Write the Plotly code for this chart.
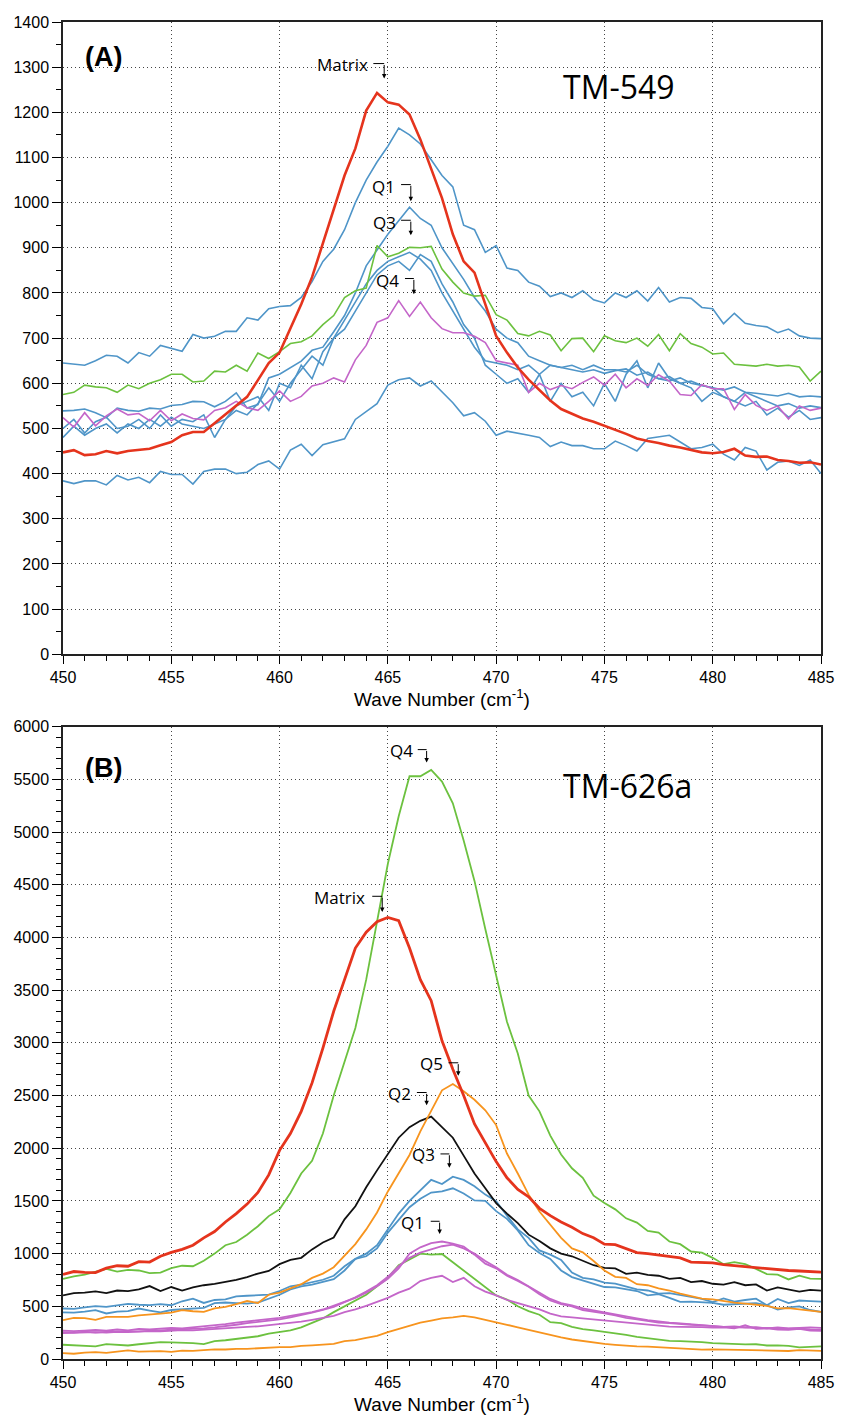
import plotly.graph_objects as go

WAVENUMBER = [450.0, 450.5, 451.0, 451.5, 452.0, 452.5, 453.0, 453.5, 454.0, 454.5,
              455.0, 455.5, 456.0, 456.5, 457.0, 457.5, 458.0, 458.5, 459.0, 459.5,
              460.0, 460.5, 461.0, 461.5, 462.0, 462.5, 463.0, 463.5, 464.0, 464.5,
              465.0, 465.5, 466.0, 466.5, 467.0, 467.5, 468.0, 468.5, 469.0, 469.5,
              470.0, 470.5, 471.0, 471.5, 472.0, 472.5, 473.0, 473.5, 474.0, 474.5,
              475.0, 475.5, 476.0, 476.5, 477.0, 477.5, 478.0, 478.5, 479.0, 479.5,
              480.0, 480.5, 481.0, 481.5, 482.0, 482.5, 483.0, 483.5, 484.0, 484.5,
              485.0]

# ---------------- Panel A: TM-549 ----------------
A_MATRIX = [447, 452, 441, 443, 450, 445, 450, 452, 455, 463,
            470, 485, 492, 492, 512, 530, 550, 570, 607, 645,
            668, 721, 775, 835, 910, 990, 1060, 1120, 1204, 1243,
            1222, 1217, 1195, 1140, 1075, 1010, 930, 870, 845, 775,
            705, 668, 635, 608, 585, 562, 543, 532, 522, 515,
            506, 498, 488, 478, 472, 468, 462, 458, 452, 447,
            445, 448, 455, 440, 437, 438, 430, 428, 424, 425,
            420]
A_BLUE_1 = [645, 643, 640, 650, 662, 660, 645, 668, 660, 684,
            678, 671, 708, 700, 704, 715, 715, 745, 740, 765,
            770, 772, 790, 825, 870, 897, 940, 1000, 1050, 1090,
            1125, 1165, 1150, 1130, 1095, 1060, 1035, 950, 940, 890,
            905, 855, 850, 824, 815, 792, 800, 790, 805, 785,
            778, 800, 790, 805, 782, 812, 780, 790, 788, 768,
            765, 732, 755, 733, 728, 725, 712, 720, 705, 700,
            699]
A_BLUE_Q1 = [539, 540, 543, 535, 524, 545, 540, 538, 545, 543,
             551, 553, 560, 559, 548, 560, 579, 545, 553, 612,
             620, 634, 649, 673, 680, 714, 750, 800, 860, 895,
             930, 960, 990, 965, 950, 900, 864, 830, 790, 760,
             720, 700, 690, 660, 650, 640, 635, 630, 625, 630,
             622, 628, 632, 618, 625, 610, 605, 612, 600, 595,
             590, 585, 592, 580, 578, 575, 572, 578, 570, 572,
             570]
A_BLUE_3 = [500, 520, 490, 515, 525, 500, 505, 520, 500, 530,
            505, 520, 515, 530, 480, 520, 550, 560, 570, 540,
            600, 590, 640, 610, 670, 700, 720, 760, 800, 840,
            860, 870, 850, 885, 870, 820, 780, 730, 700, 640,
            620, 600, 610, 580, 620, 560, 600, 570, 580, 550,
            600, 560, 620, 650, 590, 645, 610, 600, 590, 560,
            580, 570, 560, 550, 560, 530, 545, 525, 540, 520,
            524]
A_BLUE_4 = [480, 505, 485, 500, 510, 490, 510, 500, 520, 505,
            525, 510, 505, 500, 510, 520, 540, 530, 555, 590,
            560, 600, 630, 660, 640, 700, 740, 780, 820, 850,
            870, 880, 890, 875, 850, 800, 760, 720, 680, 650,
            645, 640, 630, 640, 620, 640, 635, 640, 630, 640,
            630, 630, 625, 640, 620, 610, 615, 600, 605, 595,
            590, 570, 560, 580, 570, 560, 550, 555, 545, 550,
            546]
A_BLUE_5 = [384, 378, 384, 384, 375, 396, 386, 392, 380, 405,
            398, 398, 377, 405, 410, 410, 400, 403, 420, 428,
            410, 452, 465, 440, 464, 470, 477, 520, 538, 555,
            596, 608, 612, 594, 605, 580, 557, 528, 535, 516,
            485, 494, 490, 485, 480, 460, 470, 462, 462, 455,
            455, 472, 462, 450, 478, 481, 485, 470, 455, 458,
            465, 443, 430, 458, 450, 408, 425, 428, 418, 430,
            400]
A_GREEN_Q3 = [575, 580, 596, 592, 590, 580, 596, 588, 600, 608,
              620, 620, 603, 605, 627, 625, 640, 627, 667, 655,
              670, 688, 692, 705, 730, 750, 790, 805, 811, 905,
              880, 888, 901, 900, 903, 853, 824, 800, 793, 795,
              752, 740, 710, 705, 715, 707, 672, 699, 700, 670,
              705, 694, 690, 700, 682, 708, 672, 710, 688, 680,
              665, 667, 642, 640, 638, 642, 638, 640, 636, 605,
              627]
A_PURPLE_Q4 = [524, 503, 535, 506, 528, 543, 530, 533, 517, 540,
               517, 532, 522, 519, 540, 546, 560, 546, 540, 560,
               583, 560, 571, 594, 600, 612, 603, 652, 684, 735,
               745, 783, 748, 780, 745, 721, 712, 712, 704, 690,
               650, 645, 640, 580, 600, 586, 595, 588, 602, 614,
               596, 620, 590, 610, 595, 619, 605, 575, 573, 597,
               588, 588, 542, 575, 551, 540, 550, 521, 550, 540,
               545]

# ---------------- Panel B: TM-626a ----------------
B_MATRIX = [802, 830, 822, 820, 862, 885, 880, 924, 920, 975,
            1012, 1040, 1080, 1150, 1210, 1300, 1380, 1470, 1580, 1747,
            1980, 2140, 2350, 2620, 2950, 3300, 3600, 3900, 4050, 4150,
            4190, 4160, 3900, 3600, 3400, 3020, 2750, 2500, 2230, 2050,
            1873, 1720, 1610, 1540, 1430, 1360, 1300, 1250, 1190, 1150,
            1090, 1085, 1050, 1010, 1000, 985, 975, 960, 920, 915,
            912, 895, 885, 875, 865, 860, 850, 840, 835, 828,
            824]
B_GREEN_Q4 = [761, 785, 800, 824, 855, 830, 845, 840, 815, 820,
              862, 885, 880, 933, 1000, 1080, 1110, 1180, 1260, 1356,
              1420, 1575, 1760, 1880, 2140, 2500, 2820, 3142, 3600, 4150,
              4700, 5150, 5530, 5530, 5590, 5480, 5273, 4920, 4537, 4080,
              3650, 3200, 2900, 2500, 2350, 2120, 1940, 1810, 1720, 1550,
              1480, 1420, 1335, 1294, 1215, 1200, 1115, 1090, 1020, 1010,
              960, 900, 920, 900, 855, 805, 800, 755, 790, 762,
              761]
B_BLACK_Q2 = [604, 625, 630, 642, 625, 650, 645, 660, 692, 645,
              683, 650, 680, 700, 712, 730, 750, 778, 811, 836,
              900, 940, 960, 1040, 1106, 1153, 1325, 1450, 1630, 1790,
              1950, 2100, 2200, 2260, 2300, 2200, 2100, 1930, 1760, 1620,
              1480, 1380, 1290, 1180, 1120, 1050, 1000, 975, 930, 890,
              865, 860, 808, 820, 799, 790, 761, 770, 730, 740,
              714, 705, 730, 700, 708, 650, 680, 660, 640, 655,
              649]
B_ORANGE_Q5 = [369, 390, 388, 372, 400, 400, 400, 415, 420, 430,
               441, 463, 453, 447, 480, 495, 520, 550, 532, 610,
               630, 670, 710, 770, 810, 871, 980, 1090, 1230, 1390,
               1590, 1760, 1936, 2160, 2360, 2550, 2610, 2540, 2460, 2360,
               2220, 1950, 1760, 1560, 1400, 1280, 1150, 1050, 1012, 930,
               840, 780, 770, 710, 700, 670, 650, 620, 595, 573,
               565, 548, 535, 526, 518, 505, 480, 482, 470, 462,
               448]
B_BLUE_Q3_A = [479, 475, 490, 501, 495, 510, 523, 515, 512, 520,
               510, 548, 573, 532, 560, 565, 595, 600, 604, 610,
               645, 690, 705, 730, 752, 790, 880, 950, 1000, 1080,
               1230, 1380, 1500, 1600, 1700, 1660, 1730, 1700, 1640, 1560,
               1497, 1360, 1230, 1150, 1030, 990, 940, 820, 770, 755,
               724, 715, 690, 660, 650, 620, 625, 604, 590, 570,
               540, 575, 545, 560, 573, 510, 570, 530, 555, 550,
               545]
B_BLUE_Q3_B = [442, 440, 450, 463, 432, 450, 455, 479, 460, 442,
               465, 473, 478, 485, 530, 536, 530, 526, 536, 570,
               610, 660, 690, 705, 730, 758, 840, 949, 975, 1050,
               1200, 1320, 1440, 1520, 1580, 1591, 1620, 1570, 1505, 1500,
               1403, 1330, 1220, 1080, 1005, 950, 840, 777, 745, 712,
               683, 680, 660, 645, 604, 615, 580, 542, 545, 540,
               532, 515, 520, 525, 530, 510, 470, 490, 500, 465,
               448]
B_PURPLE_Q1_A = [270, 265, 270, 275, 268, 280, 272, 285, 280, 290,
                 295, 290, 300, 305, 320, 330, 345, 355, 365, 375,
                 390, 410, 425, 445, 470, 505, 545, 580, 630, 690,
                 760, 860, 1000, 1060, 1100, 1115, 1095, 1068, 990, 905,
                 860, 790, 740, 685, 615, 555, 520, 500, 465, 445,
                 432, 415, 390, 375, 360, 345, 340, 330, 325, 320,
                 310, 305, 300, 298, 295, 300, 292, 288, 290, 280,
                 278]
B_PURPLE_Q1_B = [255, 250, 260, 250, 258, 262, 265, 262, 270, 272,
                 278, 280, 285, 290, 300, 310, 325, 340, 350, 360,
                 375, 395, 415, 440, 465, 495, 540, 585, 640, 700,
                 780, 880, 960, 1010, 1040, 1070, 1085, 1050, 1000, 930,
                 870, 800, 750, 690, 630, 570, 530, 510, 480, 460,
                 440, 420, 400, 385, 368, 355, 345, 338, 330, 318,
                 315, 305, 310, 300, 302, 290, 300, 290, 295, 300,
                 295]
B_PURPLE_Q1_C = [245, 250, 248, 255, 250, 258, 255, 262, 265, 262,
                 270, 275, 272, 280, 285, 290, 300, 305, 310, 320,
                 330, 338, 355, 372, 390, 410, 445, 470, 505, 545,
                 580, 630, 667, 740, 770, 790, 730, 770, 690, 640,
                 604, 560, 530, 500, 470, 430, 405, 395, 385, 375,
                 369, 360, 350, 340, 325, 318, 308, 305, 300, 302,
                 298, 300, 290, 320, 285, 290, 280, 276, 285, 270,
                 266]
B_GREEN_LOW = [135, 130, 128, 119, 141, 138, 128, 140, 150, 160,
               158, 157, 150, 141, 170, 178, 190, 207, 216, 240,
               258, 272, 300, 345, 385, 445, 500, 555, 610, 690,
               770, 890, 949, 1000, 990, 996, 918, 840, 765, 683,
               604, 565, 500, 455, 420, 350, 340, 305, 283, 272,
               260, 245, 229, 210, 195, 180, 172, 170, 168, 160,
               150, 145, 141, 138, 140, 128, 130, 125, 110, 118,
               119]
B_ORANGE_LOW = [56, 50, 60, 66, 58, 70, 81, 70, 72, 75,
                68, 80, 78, 85, 91, 90, 97, 96, 102, 106,
                113, 112, 125, 130, 135, 144, 170, 180, 200, 220,
                255, 285, 320, 345, 365, 385, 395, 410, 395, 372,
                354, 325, 300, 275, 250, 230, 205, 185, 170, 155,
                144, 135, 125, 120, 118, 113, 108, 103, 95, 88,
                92, 90, 85, 82, 80, 84, 78, 76, 85, 80,
                78]

X_TICKS = [450, 455, 460, 465, 470, 475, 480, 485]

RED = "#e5341d"
BLUE = "#4f95c8"
GREEN = "#6cc13f"
PURPLE = "#c466c9"
ORANGE = "#f7941e"
BLACK = "#111111"

fig = go.Figure()

def add(y, color, width, xa, ya):
    fig.add_trace(go.Scatter(x=WAVENUMBER, y=y, mode="lines",
                             line=dict(color=color, width=width),
                             xaxis=xa, yaxis=ya, showlegend=False,
                             hoverinfo="skip"))

# panel A
for s in [A_BLUE_5, A_BLUE_4, A_BLUE_3, A_BLUE_Q1, A_BLUE_1]:
    add(s, BLUE, 1.6, "x", "y")
add(A_PURPLE_Q4, PURPLE, 1.6, "x", "y")
add(A_GREEN_Q3, GREEN, 1.6, "x", "y")
add(A_MATRIX, RED, 2.6, "x", "y")

# panel B
add(B_ORANGE_LOW, ORANGE, 1.8, "x2", "y2")
add(B_GREEN_LOW, GREEN, 1.8, "x2", "y2")
for s in [B_PURPLE_Q1_C, B_PURPLE_Q1_B, B_PURPLE_Q1_A]:
    add(s, PURPLE, 1.8, "x2", "y2")
for s in [B_BLUE_Q3_B, B_BLUE_Q3_A]:
    add(s, BLUE, 1.8, "x2", "y2")
add(B_BLACK_Q2, BLACK, 1.8, "x2", "y2")
add(B_ORANGE_Q5, ORANGE, 1.8, "x2", "y2")
add(B_GREEN_Q4, GREEN, 1.8, "x2", "y2")
add(B_MATRIX, RED, 2.8, "x2", "y2")

TICKFONT = dict(family="Liberation Sans, Arial, sans-serif", size=16, color="black")
GRID = dict(showgrid=True, gridcolor="#444", griddash="1px,3px", gridwidth=1)
common_x = dict(range=[450, 485], tickvals=X_TICKS, ticks="outside", ticklen=8,
                tickwidth=1, tickcolor="black", showline=True, linecolor="#222",
                linewidth=1.5, mirror=True, zeroline=False, tickfont=TICKFONT,
                minor=dict(dtick=1, ticks="outside", ticklen=5, tickcolor="black",
                           showgrid=False),
                title=dict(text="Wave Number (cm<sup>-1</sup>)",
                           font=dict(family="Liberation Sans, Arial, sans-serif",
                                     size=19, color="black"), standoff=7),
                **GRID)
common_y = dict(ticks="outside", ticklen=9, tickwidth=1, tickcolor="black",
                showline=True, linecolor="#222", linewidth=1.5, mirror=True,
                zeroline=False, tickfont=TICKFONT, **GRID)

fig.update_layout(
    width=846, height=1423,
    margin=dict(l=63, r=16, t=22, b=52),
    paper_bgcolor="white", plot_bgcolor="white",
    xaxis=dict(domain=[0, 1], anchor="y", **common_x),
    yaxis=dict(domain=[0.5271, 1], anchor="x", range=[0, 1400], dtick=100,
               minor=dict(dtick=50, ticks="outside", ticklen=5, tickcolor="black",
                          showgrid=False), **common_y),
    xaxis2=dict(domain=[0, 1], anchor="y2", **common_x),
    yaxis2=dict(domain=[0, 0.4729], anchor="x2", range=[0, 6000], dtick=500,
                minor=dict(dtick=100, ticks="outside", ticklen=5, tickcolor="black",
                           showgrid=False), **common_y),
)

LABEL_FONT = dict(family="Open Sans, Noto Sans, sans-serif", size=17, color="black")

# (label, text right x, text y, hook start x, hook y, tip x, tip y, arrow px, axes)
LABELS = [
    ("Matrix", 464.19, 1306, 464.33, 1308, 464.83, 1275, 15, "x", "y"),
    ("Q1", 465.42, 1036, 465.61, 1040, 466.06, 1003, 17, "x", "y"),
    ("Q3", 465.47, 957, 465.61, 961, 466.06, 928, 15, "x", "y"),
    ("Q4", 465.61, 827, 465.79, 832, 466.20, 797, 16, "x", "y"),
    ("Q4", 466.25, 5773, 466.38, 5783, 466.79, 5661, 13, "x2", "y2"),
    ("Matrix", 464.05, 4382, 464.28, 4391, 464.74, 4241, 16, "x2", "y2"),
    ("Q5", 467.66, 2802, 467.80, 2811, 468.25, 2689, 13, "x2", "y2"),
    ("Q2", 466.15, 2520, 466.34, 2529, 466.79, 2407, 13, "x2", "y2"),
    ("Q3", 467.29, 1937, 467.43, 1946, 467.84, 1815, 14, "x2", "y2"),
    ("Q1", 466.75, 1298, 466.98, 1307, 467.39, 1185, 13, "x2", "y2"),
]
for (txt, tx, ty, hx, hy, ax_, ay_, alen, xr, yr) in LABELS:
    fig.add_annotation(x=tx, y=ty, xref=xr, yref=yr, text=txt, showarrow=False,
                       xanchor="right", yanchor="middle", font=LABEL_FONT)
    fig.add_shape(type="line", xref=xr, yref=yr, x0=hx, x1=ax_, y0=hy, y1=hy,
                  line=dict(color="black", width=1))
    fig.add_annotation(x=ax_, y=ay_, xref=xr, yref=yr, text="", showarrow=True,
                       ax=0, ay=-alen, arrowhead=2, arrowsize=0.9, arrowwidth=1,
                       arrowcolor="black", standoff=0, startstandoff=0)

TITLE_FONT = dict(family="Open Sans, Noto Sans, sans-serif", size=32, color="black")
PANEL_FONT = dict(family="Liberation Sans, Arial, sans-serif", size=27, color="black")
fig.add_annotation(x=473.0, y=1257, xref="x", yref="y", text="TM-549",
                   showarrow=False, xanchor="left", yanchor="middle", font=TITLE_FONT)
fig.add_annotation(x=473.0, y=5444, xref="x2", yref="y2", text="TM-626a",
                   showarrow=False, xanchor="left", yanchor="middle", font=TITLE_FONT)
fig.add_annotation(x=450.91, y=1323, xref="x", yref="y", text="<b>(A)</b>",
                   showarrow=False, xanchor="left", yanchor="middle", font=PANEL_FONT)
fig.add_annotation(x=450.91, y=5604, xref="x2", yref="y2", text="<b>(B)</b>",
                   showarrow=False, xanchor="left", yanchor="middle", font=PANEL_FONT)

fig.write_html("out.html")
